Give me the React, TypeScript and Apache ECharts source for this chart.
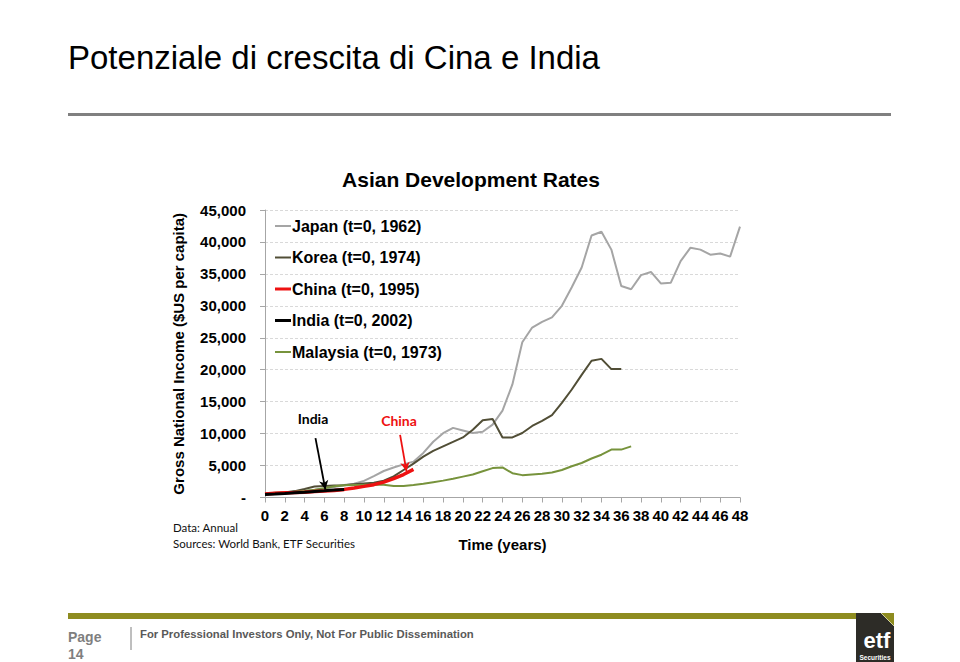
import React, { useEffect, useRef } from "react";
import * as echarts from "echarts";

// ---- data (GNI per capita, US$, t = years since start) ----
const japanValues = [
  610, 690, 800, 890, 1000, 1160, 1400, 1650, 1940, 2150, 2600, 3360, 4150, 4700, 5180, 5610, 6980, 8720,
  10070, 10900, 10500, 10100, 10300, 11400, 13600, 17700, 24300, 26600, 27500, 28200, 30000, 32900, 36000,
  41000, 41600, 38800, 33100, 32600, 34800, 35300, 33500, 33600, 37000, 39100, 38800, 38000, 38200, 37700, 42400,
];
const koreaValues = [
  560, 610, 800, 1000, 1320, 1710, 1810, 1870, 1930, 2080, 2210, 2320, 2630, 3300, 4300, 5300, 6400, 7300,
  8000, 8700, 9400, 10600, 12100, 12300, 9400, 9400, 10100, 11200, 12000, 12900, 14800, 16900, 19200, 21400,
  21700, 20100, 20100,
];
const chinaValues = [530, 650, 750, 790, 840, 930, 1000, 1100, 1270, 1500, 1740, 2010, 2410, 2940, 3590, 4400];
const indiaValues = [470, 530, 620, 730, 820, 950, 1040, 1180, 1270];
const malaysiaValues = [
  600, 730, 800, 900, 1020, 1200, 1440, 1760, 1900, 1960, 1980, 2010, 1980, 1800, 1800, 1950, 2160, 2400,
  2640, 2940, 3270, 3600, 4100, 4600, 4700, 3800, 3500, 3600, 3700, 3900, 4300, 4900, 5400, 6100, 6700,
  7500, 7500, 8000,
];
const seriesNames = [
  "Japan (t=0, 1962)",
  "Korea (t=0, 1974)",
  "China (t=0, 1995)",
  "India (t=0, 2002)",
  "Malaysia (t=0, 1973)",
];
const xMin = 0;
const xMax = 48;
const xStep = 2;
const yMax = 45000;
const yStep = 5000;

// arrow annotations [from, to] in data units
const indiaArrow = [[5.1, 9300], [6.1, 1250]];
const chinaArrow = [[13.65, 9800], [14.3, 4100]];

const toPairs = (arr: number[]) => arr.map((v, i) => [i, v]);

const thinIcon = "path://M0,0 M0,7 L16,7 L16,9 L0,9 Z M16,16";
const thickIcon = "path://M0,0 M0,6.5 L16,6.5 L16,9.5 L0,9.5 Z M16,16";

export default function App() {
  const ref = useRef<HTMLDivElement>(null);
  useEffect(() => {
    if (!ref.current) return;
    const chart = echarts.init(ref.current, undefined, { renderer: "svg" });
    const arrowLine = (pts: number[][], color: string) => ({
      silent: true,
      symbol: ["none", "arrow"],
      symbolSize: [7, 9],
      label: { show: false },
      lineStyle: { color, width: 1.8, type: "solid" },
      data: [[{ coord: pts[0] }, { coord: pts[1] }]],
    });
    const option: any = {
      animation: false,
      backgroundColor: "#ffffff",
      title: {
        text: "Asian Development Rates",
        left: 466,
        top: 164,
        textAlign: "center",
        textStyle: { fontFamily: "Liberation Sans, Arial", fontWeight: "bold", fontSize: 21, color: "#000" },
      },
      grid: { left: 265, right: 220, top: 210, bottom: 164.5, containLabel: false },
      legend: {
        orient: "vertical",
        left: 270,
        top: 213,
        itemWidth: 16,
        itemHeight: 16,
        itemGap: 15.5,
        textStyle: {
          fontFamily: "Liberation Sans, Arial",
          fontWeight: "bold",
          fontSize: 16,
          color: "#000",
          lineHeight: 16,
          padding: [0, 0, 0, -4],
        },
        data: [
          { name: seriesNames[0], icon: thinIcon, itemStyle: { color: "#a5a5a5" } },
          { name: seriesNames[1], icon: thinIcon, itemStyle: { color: "#514e36" } },
          { name: seriesNames[2], icon: thickIcon, itemStyle: { color: "#ee1111" } },
          { name: seriesNames[3], icon: thickIcon, itemStyle: { color: "#000000" } },
          { name: seriesNames[4], icon: thinIcon, itemStyle: { color: "#77933c" } },
        ],
      },
      xAxis: {
        type: "value",
        min: xMin,
        max: xMax,
        interval: xStep,
        name: "Time (years)",
        nameLocation: "middle",
        nameGap: 39,
        nameTextStyle: { fontFamily: "Liberation Sans, Arial", fontWeight: "bold", fontSize: 15, color: "#000" },
        axisLine: { lineStyle: { color: "#a6a6a6", width: 1 } },
        axisTick: { show: true, length: 5, lineStyle: { color: "#a6a6a6" } },
        axisLabel: {
          margin: 10,
          fontFamily: "Liberation Sans, Arial",
          fontWeight: "bold",
          fontSize: 15,
          color: "#000",
        },
        splitLine: { show: false },
      },
      yAxis: {
        type: "value",
        min: 0,
        max: yMax,
        interval: yStep,
        name: "Gross National Income ($US per capita)",
        nameLocation: "middle",
        nameGap: 79,
        nameTextStyle: { fontFamily: "Liberation Sans, Arial", fontWeight: "bold", fontSize: 15, color: "#000" },
        axisLine: { show: true, lineStyle: { color: "#a6a6a6", width: 1 } },
        axisTick: { show: true, length: 5, lineStyle: { color: "#a6a6a6" } },
        axisLabel: {
          margin: 19,
          fontFamily: "Liberation Sans, Arial",
          fontWeight: "bold",
          fontSize: 15,
          color: "#000",
          formatter: (v: number) => (v === 0 ? "-" : v.toLocaleString("en-US")),
        },
        splitLine: { show: true, lineStyle: { color: "#d9d9d9", type: [3, 2], width: 1 } },
      },
      series: [
        {
          name: seriesNames[0],
          type: "line",
          data: toPairs(japanValues),
          showSymbol: false,
          symbol: "none",
          lineStyle: { color: "#a5a5a5", width: 2 },
          itemStyle: { color: "#a5a5a5" },
        },
        {
          name: seriesNames[1],
          type: "line",
          data: toPairs(koreaValues),
          showSymbol: false,
          symbol: "none",
          lineStyle: { color: "#514e36", width: 2 },
          itemStyle: { color: "#514e36" },
        },
        {
          name: seriesNames[4],
          type: "line",
          data: toPairs(malaysiaValues),
          showSymbol: false,
          symbol: "none",
          lineStyle: { color: "#77933c", width: 2 },
          itemStyle: { color: "#77933c" },
        },
        {
          name: seriesNames[2],
          type: "line",
          data: toPairs(chinaValues),
          showSymbol: false,
          symbol: "none",
          lineStyle: { color: "#ee1111", width: 3.5 },
          itemStyle: { color: "#ee1111" },
          markLine: arrowLine(chinaArrow, "#ee1111"),
        },
        {
          name: seriesNames[3],
          type: "line",
          data: toPairs(indiaValues),
          showSymbol: false,
          symbol: "none",
          lineStyle: { color: "#000000", width: 3 },
          itemStyle: { color: "#000000" },
          markLine: arrowLine(indiaArrow, "#000000"),
        },
      ],
      graphic: [
        {
          type: "text",
          left: 68,
          top: 41,
          style: { text: "Potenziale di crescita di Cina e India", font: "33px 'Liberation Sans', Arial", fill: "#000" },
        },
        { type: "rect", shape: { x: 68, y: 113, width: 823, height: 3 }, style: { fill: "#808080" } },
        {
          type: "text",
          x: 313,
          y: 418,
          style: { text: "India", font: "bold 14px Lato", fill: "#000", textAlign: "center", textVerticalAlign: "middle" },
        },
        {
          type: "text",
          x: 399,
          y: 420,
          style: { text: "China", font: "bold 14px Lato", fill: "#ee1111", textAlign: "center", textVerticalAlign: "middle" },
        },
        {
          type: "text",
          x: 173,
          y: 527,
          style: { text: "Data: Annual", font: "11.5px Lato", fill: "#111", textVerticalAlign: "middle" },
        },
        {
          type: "text",
          x: 173,
          y: 543,
          style: { text: "Sources: World Bank, ETF Securities", font: "11.5px Lato", fill: "#111", textVerticalAlign: "middle" },
        },
        { type: "rect", shape: { x: 68, y: 613, width: 790, height: 6 }, style: { fill: "#8e8c20" } },
        {
          type: "text",
          x: 68,
          y: 637,
          style: { text: "Page", font: "bold 14px 'Liberation Sans', Arial", fill: "#7f7f7f", textVerticalAlign: "middle" },
        },
        {
          type: "text",
          x: 68,
          y: 654,
          style: { text: "14", font: "bold 14px 'Liberation Sans', Arial", fill: "#7f7f7f", textVerticalAlign: "middle" },
        },
        { type: "line", shape: { x1: 131, y1: 627, x2: 131, y2: 650 }, style: { stroke: "#7f7f7f", lineWidth: 1 } },
        {
          type: "text",
          x: 140,
          y: 634,
          style: {
            text: "For Professional Investors Only, Not For Public Dissemination",
            font: "bold 11.3px 'Liberation Sans', Arial",
            fill: "#595959",
            textVerticalAlign: "middle",
          },
        },
        { type: "rect", shape: { x: 856, y: 613, width: 38, height: 49 }, style: { fill: "#2d2c27" } },
        { type: "polygon", shape: { points: [[881, 613], [894, 613], [894, 626]] }, style: { fill: "#8e8c20" } },
        { type: "line", shape: { x1: 881, y1: 613, x2: 894, y2: 626 }, style: { stroke: "#cfcf9a", lineWidth: 1 } },
        {
          type: "text",
          x: 877,
          y: 640,
          style: { text: "etf", font: "bold 22px 'Liberation Sans', Arial", fill: "#fff", textAlign: "center", textVerticalAlign: "middle" },
        },
        {
          type: "text",
          x: 875,
          y: 657.5,
          style: { text: "Securities", font: "bold 6.5px 'Liberation Sans', Arial", fill: "#fff", textAlign: "center", textVerticalAlign: "middle" },
        },
      ],
    };
    chart.setOption(option);
    return () => chart.dispose();
  }, []);
  return (
    <div
      ref={ref}
      style={{ position: "fixed", left: 0, top: 0, width: 960, height: 662, background: "#fff" }}
    />
  );
}
